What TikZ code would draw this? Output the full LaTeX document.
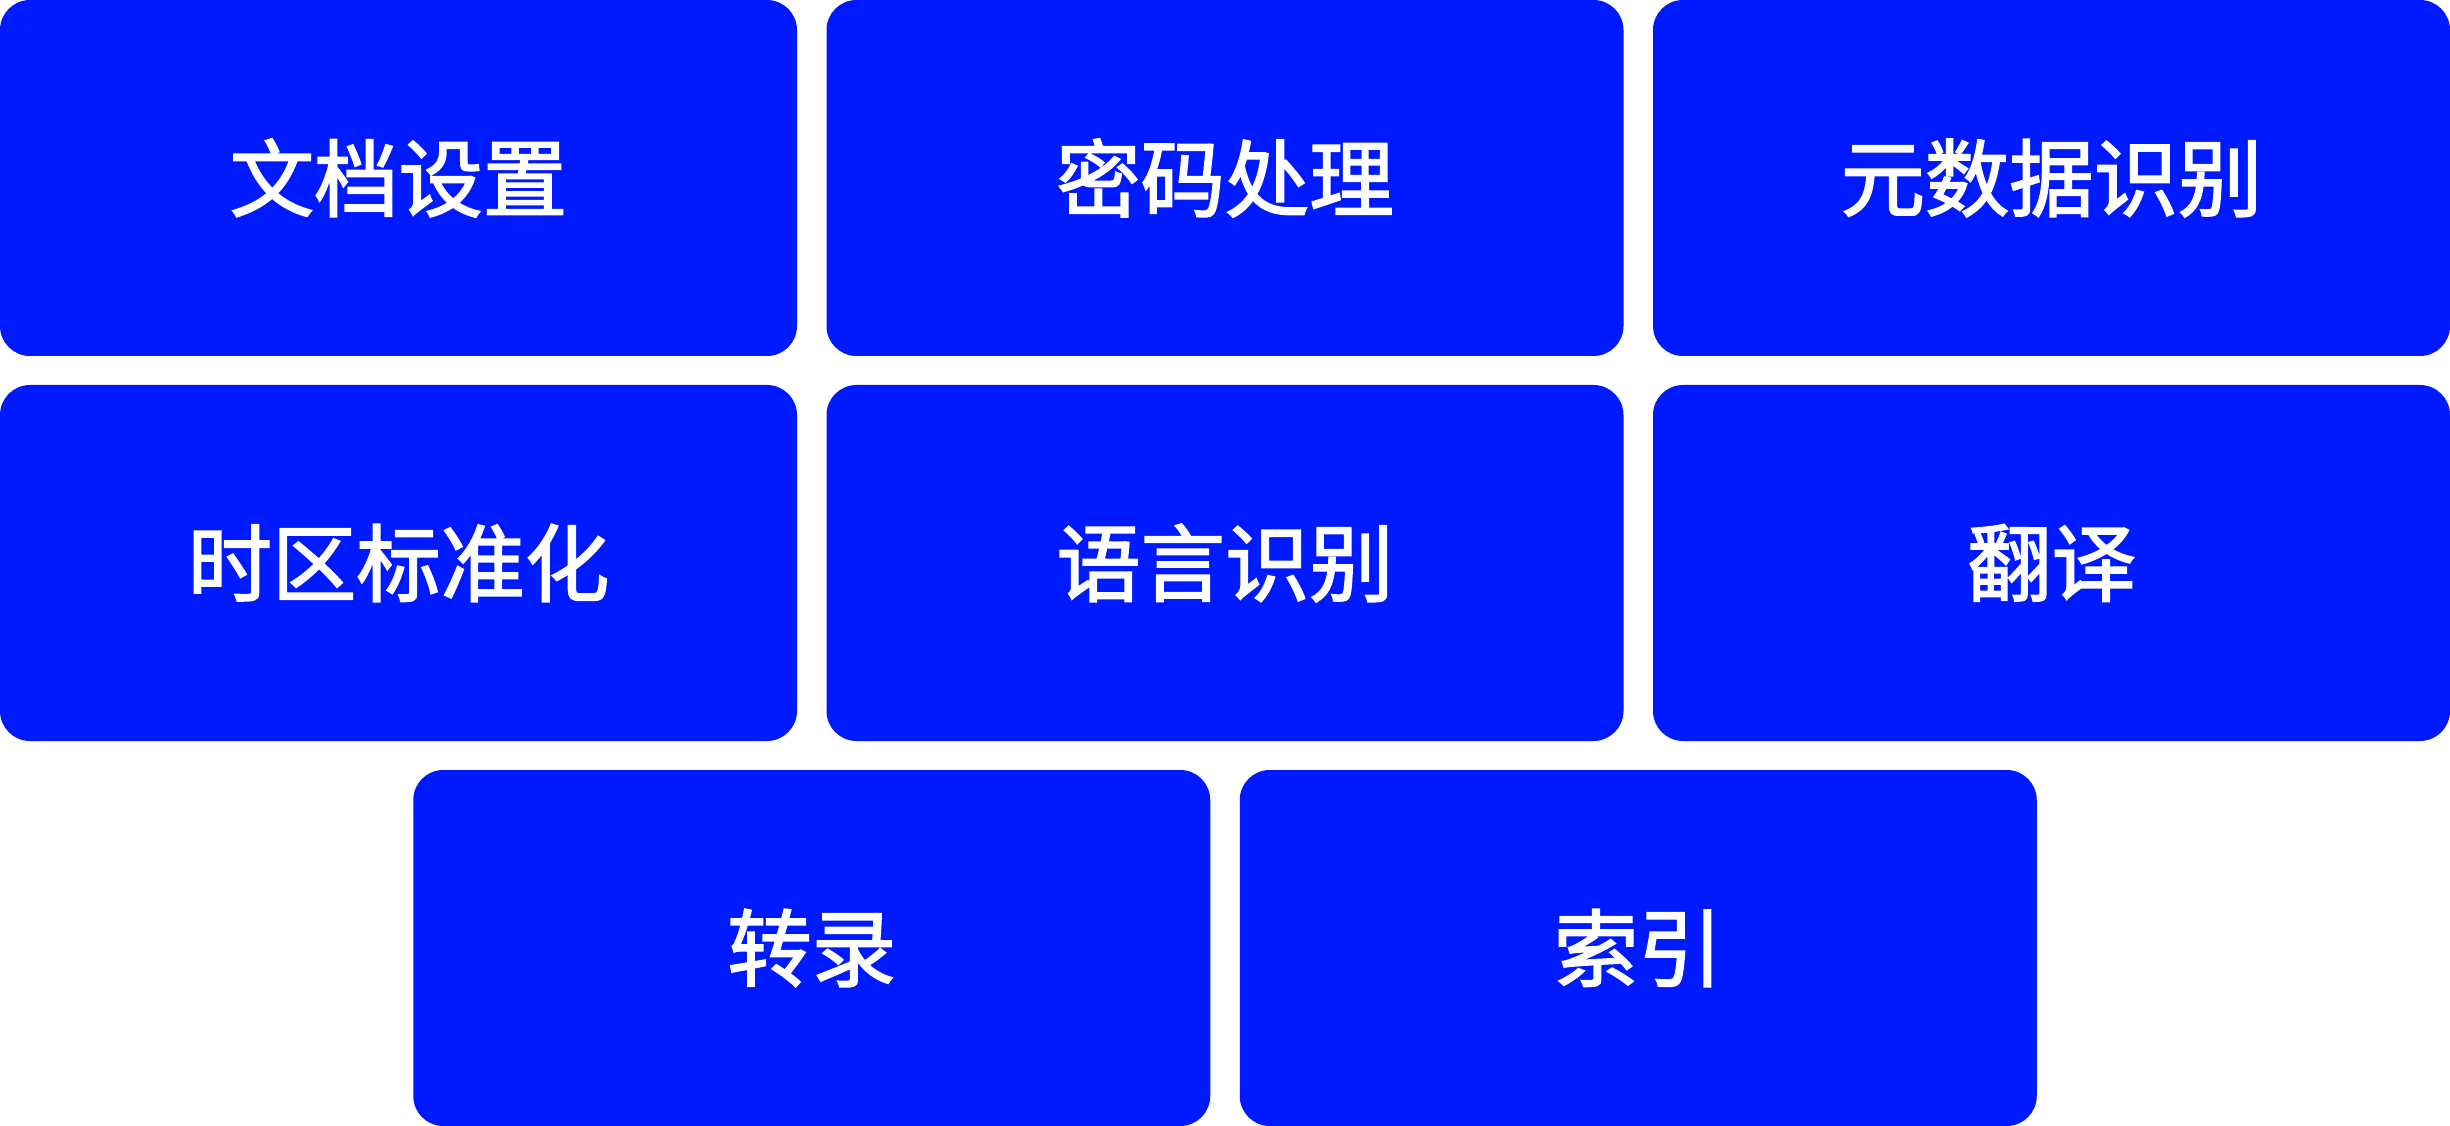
\documentclass[tikz,border=0pt]{standalone}
\usepackage{fontspec}
\newfontfamily\cjk[FakeBold=2]{Noto Sans CJK SC}
\usetikzlibrary{positioning}
\definecolor{stepblue}{RGB}{0,26,255}

\begin{document}
\begin{tikzpicture}[
        node distance = 2.9mm and 2.95mm,
    every node/.style = {fill=stepblue, text=white, rounded corners=3mm,
                         minimum width=79.7mm, minimum height=35.6mm,
                         inner sep=0pt, outer sep=0pt, align=center,
                         font=\cjk\fontsize{24}{24}\selectfont},
                            ]
    \node (doc) {文档设置};
    \node[right=of doc] (pwd) {密码处理};
    \node[right=of pwd] (meta) {元数据识别};
    %
    \node[below=of doc] (tz) {时区标准化};
    \node[right=of tz] (lang) {语言识别};
    \node[right=of lang] (transl) {翻译};
    %
    \node[below left=2.9mm and 1.475mm of lang.south] (transc) {转录};
    \node[right=of transc] (index) {索引};
\end{tikzpicture}
\end{document}
